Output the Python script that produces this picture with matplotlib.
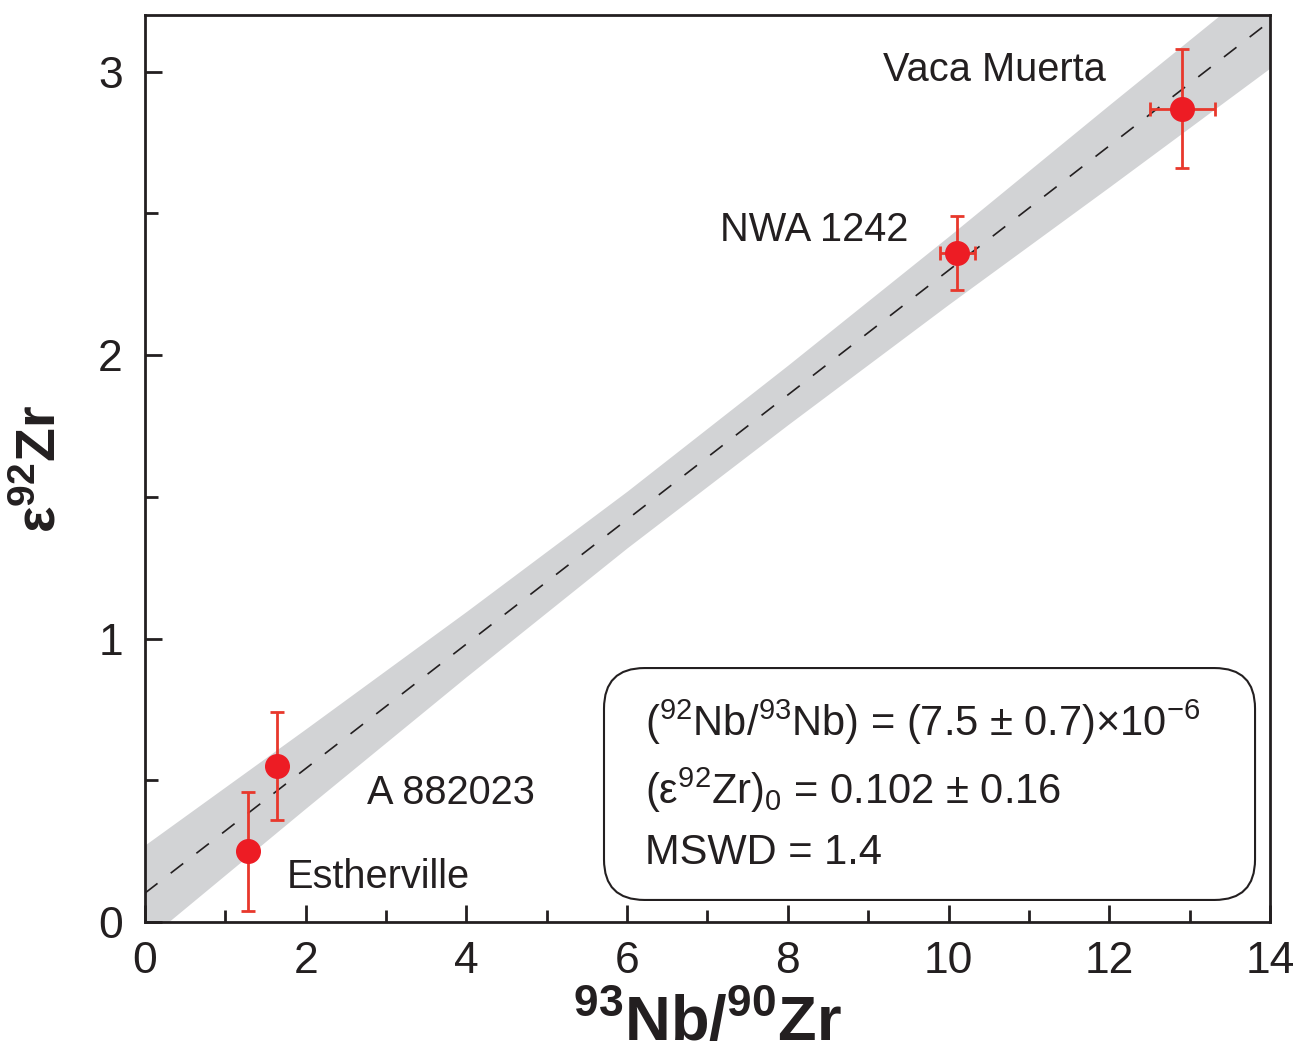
import matplotlib
matplotlib.use("Agg")
import matplotlib.pyplot as plt
import numpy as np
from matplotlib.patches import FancyBboxPatch
from matplotlib.ticker import MultipleLocator

plt.rcParams['font.family'] = ['Liberation Sans', 'DejaVu Sans']
plt.rcParams['mathtext.fontset'] = 'custom'
plt.rcParams['mathtext.rm'] = 'Liberation Sans'
plt.rcParams['mathtext.it'] = 'Liberation Sans:italic'
plt.rcParams['mathtext.bf'] = 'Liberation Sans:bold'

# ---- data ----
samples = ["Estherville", "A 882023", "NWA 1242", "Vaca Muerta"]
nb_zr = [1.28, 1.64, 10.11, 12.91]
nb_zr_err = [0.0, 0.0, 0.22, 0.40]
eps_zr = [0.25, 0.55, 2.36, 2.87]
eps_zr_err = [0.21, 0.19, 0.13, 0.21]

fit_intercept = 0.102
fit_slope = 0.2197
band_x = [0, 2, 4, 6, 8, 10, 12, 14]
band_halfwidth = [0.17, 0.14, 0.115, 0.10, 0.105, 0.12, 0.145, 0.165]

label_pos = {"Estherville": (1.77, 0.16), "A 882023": (2.76, 0.455),
             "NWA 1242": (7.16, 2.443), "Vaca Muerta": (9.18, 3.007)}

fig = plt.figure(figsize=(13.04, 10.52), dpi=100)
ax = fig.add_axes([145/1304, 1 - 922/1052, 1125/1304, 907/1052])

bx = np.array(band_x, dtype=float)
line_y = fit_intercept + fit_slope * bx
hw = np.array(band_halfwidth)
ax.fill_between(bx, line_y - hw, line_y + hw, color='#d2d3d5', lw=0, zorder=1)
ax.plot(bx, line_y, color='#231f20', lw=1.2, dashes=(9.5, 10), zorder=2)

ax.errorbar(nb_zr, eps_zr, xerr=nb_zr_err, yerr=eps_zr_err, fmt='o',
            color='#ed1c24', ecolor='#e8382c', elinewidth=2, capsize=5,
            capthick=2, markersize=17, zorder=3)

for s in samples:
    x, y = label_pos[s]
    ax.text(x, y, s, fontsize=28.6, ha='left', va='center', color='#231f20')

# stats box
ax.add_patch(FancyBboxPatch((0.408, 0.0243), 0.9867 - 0.408, 0.280 - 0.0243,
                            boxstyle="round,pad=0,rounding_size=0.036",
                            mutation_aspect=1.24, transform=ax.transAxes,
                            fc='white', ec='#231f20', lw=1.5, zorder=4))
box_lines = [r'($^{92}$Nb/$^{93}$Nb) = (7.5 ± 0.7)×10$^{-6}$',
             r'(ε$^{92}$Zr)$_{0}$ = 0.102 ± 0.16',
             'MSWD = 1.4']
box_y = [(922 - 722) / 907, (922 - 790) / 907, (922 - 853) / 907]
for t, yy in zip(box_lines, box_y):
    ax.text((645 - 145) / 1125, yy, t, transform=ax.transAxes, fontsize=30,
            ha='left', va='center', color='#231f20', zorder=5)

ax.set_xlim(0, 14)
ax.set_ylim(0, 3.2)
ax.xaxis.set_major_locator(MultipleLocator(2))
ax.xaxis.set_minor_locator(MultipleLocator(1))
ax.yaxis.set_major_locator(MultipleLocator(1))
ax.yaxis.set_minor_locator(MultipleLocator(0.5))
ax.tick_params(which='both', direction='in', width=2, colors='#231f20',
               labelsize=32, top=False, right=False)
ax.tick_params(which='major', length=12)
ax.tick_params(axis='x', which='major', pad=14)
ax.tick_params(axis='y', which='major', pad=16)
ax.tick_params(which='minor', length=9)
for sp in ax.spines.values():
    sp.set_linewidth(2)
    sp.set_color('#231f20')

ax.set_xlabel(r'$\mathbf{^{93}Nb/^{90}Zr}$', fontsize=45.5, color='#231f20', labelpad=9)
ax.set_ylabel(r'$\mathbf{ε^{92}Zr}$', fontsize=40, color='#231f20', labelpad=22)

fig.savefig('out.png', dpi=100, facecolor='white')
